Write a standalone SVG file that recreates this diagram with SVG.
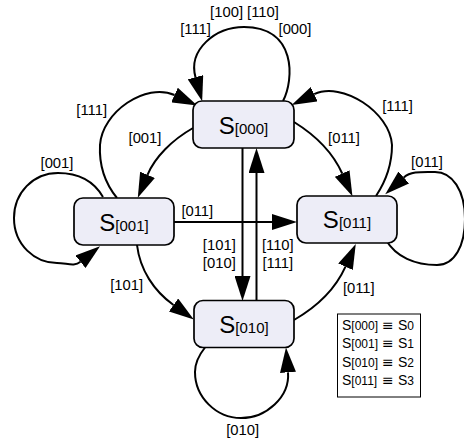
<svg xmlns="http://www.w3.org/2000/svg" width="464" height="441" viewBox="0 0 464 441">
  <style>
    .node rect { fill: #ededf7; stroke: #000; stroke-width: 1.7; }
    .node text { font-family: "Liberation Sans", Arial, sans-serif; fill: #000; text-anchor: middle; }
    .big { font-size: 24px; }
    .sub { font-size: 15px; }
    .edge { fill: none; stroke: #000; stroke-width: 2; marker-end: url(#ah); }
    .lbl { font-family: "Liberation Sans", Arial, sans-serif; font-size: 14.8px; fill: #000; text-anchor: middle; }
    .leg { font-family: "Liberation Sans", Arial, sans-serif; fill: #000; }
    .legS { font-size: 14px; }
    .legSub { font-size: 12px; }
    .legEq { font-family: "DejaVu Sans", "Liberation Sans", sans-serif; font-size: 14px; }
  </style>
  <defs>
    <marker id="ah" viewBox="0 -8 25 16" refX="0" refY="0" markerWidth="25" markerHeight="16" markerUnits="userSpaceOnUse" orient="auto">
      <path d="M0,-8 L25,0 L0,8 Z" fill="#000"/>
    </marker>
  </defs>

  <!-- transitions -->
  <g id="connectors">
    <!-- S000 self loop -->
    <path class="edge" d="M283,101 C 294,80 297,27 244,27 C 215,27 188,50 195.5,77.2"/>
    <!-- S000 -> S001 -->
    <path class="edge" d="M193,128 C 172,140 155,157 147.5,174.8"/>
    <!-- S001 -> S000 -->
    <path class="edge" d="M117,198 C 104,182 99,165 100,145 C 102,112 146,82 174.5,95"/>
    <!-- S000 -> S011 -->
    <path class="edge" d="M294,122 C 315,135 333,153 342.2,173.5"/>
    <!-- S011 -> S000 -->
    <path class="edge" d="M376,196 C 386,181 392,165 392,145 C 390,112 342,81 314.2,94.2"/>
    <!-- S011 self loop -->
    <path class="edge" d="M386,240 C 396,257 415,265 437,265 C 455,265 465,245 465,219 C 465,190 452,172 435,172 C 422,172 411,171 403.8,177.5"/>
    <!-- S001 self loop -->
    <path class="edge" d="M103,197 C 92,178 75,173 58,173 C 33,173 14,193 14,218 C 14,245 35,263 57,263 C 67,263 74,267 80.5,261.8"/>
    <!-- S001 -> S011 -->
    <path class="edge" d="M174,222 L272,222"/>
    <!-- S000 -> S010 -->
    <path class="edge" d="M242.5,148 L242.5,276"/>
    <!-- S010 -> S000 -->
    <path class="edge" d="M256.5,300.5 L256.5,173"/>
    <!-- S001 -> S010 -->
    <path class="edge" d="M137,245 C 140,270 154,291 173.5,305"/>
    <!-- S010 -> S011 -->
    <path class="edge" d="M294,320 C 315,308 335,290 345.5,266.7"/>
    <!-- S010 self loop -->
    <path class="edge" d="M205,347.5 C 199,355 195,363 195,372 C 195,397 216,418 241,418 C 266,418 290,397 288,372.3"/>

    <!-- transition labels -->
    <text class="lbl" x="244.5" y="17">[100] [110]</text>
    <text class="lbl" x="195.5" y="34">[111]</text>
    <text class="lbl" x="295" y="34">[000]</text>
    <text class="lbl" x="91.7" y="115">[111]</text>
    <text class="lbl" x="145" y="143">[001]</text>
    <text class="lbl" x="57" y="168">[001]</text>
    <text class="lbl" x="197.3" y="216">[011]</text>
    <text class="lbl" x="219.3" y="250">[101]</text>
    <text class="lbl" x="219.3" y="268">[010]</text>
    <text class="lbl" x="277.8" y="250">[110]</text>
    <text class="lbl" x="277.8" y="268">[111]</text>
    <text class="lbl" x="126.7" y="290">[101]</text>
    <text class="lbl" x="242.7" y="435">[010]</text>
    <text class="lbl" x="344" y="143">[011]</text>
    <text class="lbl" x="397.5" y="111">[111]</text>
    <text class="lbl" x="427" y="167">[011]</text>
    <text class="lbl" x="358.8" y="293">[011]</text>
  </g>

  <!-- states -->
  <g id="S000" class="node">
    <rect x="193" y="101" width="101" height="47" rx="9"/>
    <text x="243.5" y="133.5"><tspan class="big">S</tspan><tspan class="sub">[000]</tspan></text>
  </g>
  <g id="S001" class="node">
    <rect x="74" y="198" width="100" height="47" rx="9"/>
    <text x="124" y="230.5"><tspan class="big">S</tspan><tspan class="sub">[001]</tspan></text>
  </g>
  <g id="S011" class="node">
    <rect x="297" y="196" width="100" height="47" rx="9"/>
    <text x="347" y="228"><tspan class="big">S</tspan><tspan class="sub">[011]</tspan></text>
  </g>
  <g id="S010" class="node">
    <rect x="194" y="300.5" width="100" height="47" rx="9"/>
    <text x="244" y="333"><tspan class="big">S</tspan><tspan class="sub">[010]</tspan></text>
  </g>

  <!-- state naming key -->
  <g id="legend">
    <rect x="337.5" y="314" width="83" height="83" fill="#fff" stroke="#000" stroke-width="1"/>
    <text class="leg" y="330"><tspan class="legS" x="342">S</tspan><tspan class="legSub">[000]</tspan><tspan class="legEq" x="382">≡</tspan><tspan class="legS" x="398">S</tspan><tspan class="legSub">0</tspan></text>
    <text class="leg" y="348.3"><tspan class="legS" x="342">S</tspan><tspan class="legSub">[001]</tspan><tspan class="legEq" x="382">≡</tspan><tspan class="legS" x="398">S</tspan><tspan class="legSub">1</tspan></text>
    <text class="leg" y="366.7"><tspan class="legS" x="342">S</tspan><tspan class="legSub">[010]</tspan><tspan class="legEq" x="382">≡</tspan><tspan class="legS" x="398">S</tspan><tspan class="legSub">2</tspan></text>
    <text class="leg" y="385"><tspan class="legS" x="342">S</tspan><tspan class="legSub">[011]</tspan><tspan class="legEq" x="382">≡</tspan><tspan class="legS" x="398">S</tspan><tspan class="legSub">3</tspan></text>
  </g>
</svg>
